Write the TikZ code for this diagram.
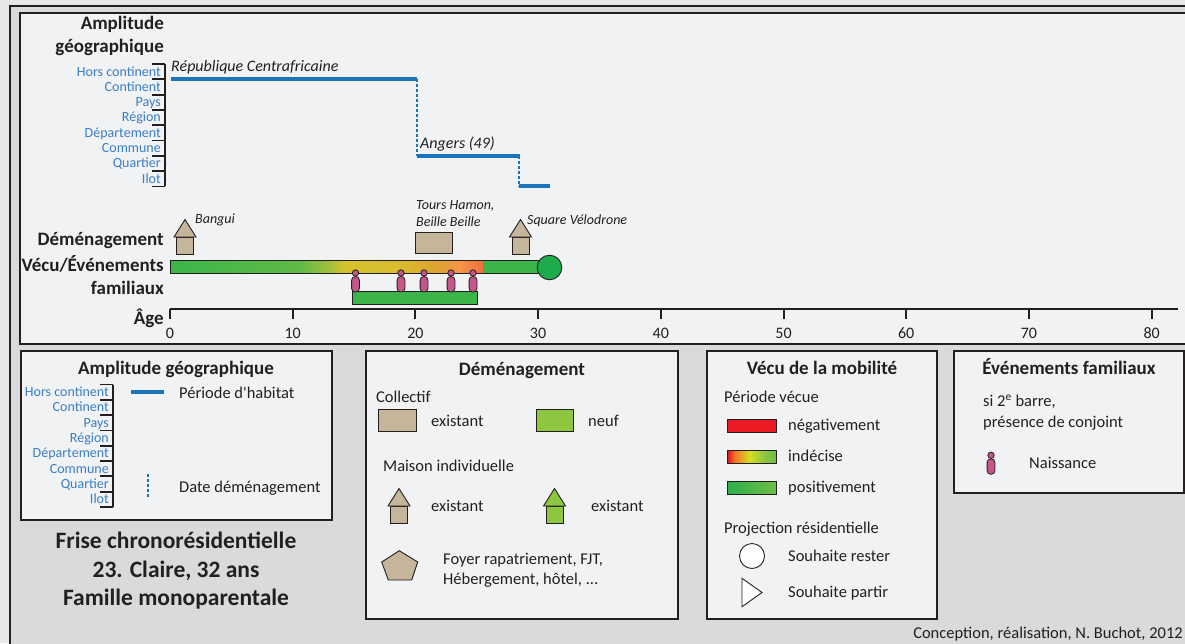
\documentclass[tikz,border=0pt]{standalone}
\usepackage{fontspec}
\setmainfont{Carlito}
\definecolor{fonce}{RGB}{35,31,32}
\definecolor{fond}{RGB}{217,218,220}
\definecolor{marge}{RGB}{232,232,232}
\definecolor{panneau}{RGB}{241,242,244}
\definecolor{bleu}{RGB}{27,117,188}
\definecolor{bleutxt}{RGB}{58,126,196}
\definecolor{beige}{RGB}{197,181,155}
\definecolor{vertclair}{RGB}{141,198,63}
\definecolor{vert}{RGB}{59,181,74}
\definecolor{vertrond}{RGB}{30,171,75}
\definecolor{vfonce}{RGB}{43,176,74}
\definecolor{vmil}{RGB}{108,189,69}
\definecolor{rose}{RGB}{196,86,138}
\definecolor{rouge}{RGB}{237,28,36}
\definecolor{rfonce}{RGB}{150,40,30}
\definecolor{orangeL}{RGB}{240,120,40}
\definecolor{jauneL}{RGB}{215,222,38}
\definecolor{v2}{RGB}{96,185,70}
\definecolor{v3}{RGB}{166,192,58}
\definecolor{j1}{RGB}{214,194,46}
\definecolor{j2}{RGB}{217,188,46}
\definecolor{j3}{RGB}{221,165,48}
\definecolor{o1}{RGB}{246,148,73}
\definecolor{o2}{RGB}{242,110,62}
\pgfdeclarehorizontalshading{vecu}{100bp}{color(0bp)=(vert); color(25bp)=(vert); color(45.8bp)=(v2); color(50.6bp)=(v3); color(53bp)=(j1); color(61.7bp)=(j2); color(67.3bp)=(j3); color(71.3bp)=(o1); color(75bp)=(o2); color(100bp)=(o2)}
\pgfdeclarehorizontalshading{indecise}{100bp}{color(0bp)=(rfonce); color(25bp)=(rfonce); color(26.5bp)=(rouge); color(33bp)=(orangeL); color(48bp)=(jauneL); color(63bp)=(vertclair); color(75bp)=(vmil); color(100bp)=(vmil)}
\tikzset{
  pics/maison/.style={code={
    \filldraw[fill=#1, draw=fonce, line width=0.9pt] (-8.5,0) rectangle (8.5,-17);
    \filldraw[fill=#1, draw=fonce, line width=0.9pt] (-11,-17) -- (0,-34.5) -- (11,-17) -- cycle;}},
  pics/naissance/.style={code={
    \filldraw[fill=rose, draw=fonce, line width=0.8pt, rounded corners=3.6pt] (-3.9,0) rectangle (3.9,-15.5);
    \filldraw[fill=rose, draw=fonce, line width=0.8pt] (0,-19) circle (3.2);}}
}
\begin{document}
\begin{tikzpicture}[x=1pt,y=-1pt,
    txt/.style={font=\fontsize{16.5}{20}\selectfont, text=fonce, inner sep=0pt},
    titre/.style={font=\fontsize{19}{23}\selectfont\bfseries, text=fonce, inner sep=0pt},
    grand/.style={font=\fontsize{23.5}{28}\selectfont\bfseries, text=fonce, inner sep=0pt},
    niveau/.style={font=\fontsize{14}{16}\selectfont, text=bleutxt, inner sep=0pt},
    lieu/.style={font=\fontsize{14}{17}\selectfont\itshape, text=fonce, inner sep=0pt},
    lieug/.style={font=\fontsize{16}{19}\selectfont\itshape, text=fonce, inner sep=0pt},
    chiffre/.style={font=\fontsize{16}{19}\selectfont, text=fonce, inner sep=0pt},
    cadre/.style={fill=panneau, draw=fonce, line width=2.5pt},
    habitat/.style={draw=bleu, line width=4pt},
    demenag/.style={draw=bleu, line width=1.5pt, dash pattern=on 3pt off 2pt},
    crochet/.style={draw=fonce, line width=1.8pt},
    contour/.style={draw=fonce, line width=0.9pt},
    axe/.style={draw=fonce, line width=2pt}]
\useasboundingbox (0,0) rectangle (1185,643);
\clip (0,0) rectangle (1185,643);
\fill[marge] (0,0) rectangle (1185,643);
\path[fill=fond, draw=fonce, line width=2pt] (9.5,5.5) rectangle (1200,660);

% echelle des niveaux : x du crochet, y du premier trait, prefixe
\def\echelle#1#2#3{%
  \foreach \n [count=\i from 0] in {Hors continent,Continent,Pays,Région,Département,Commune,Quartier,Ilot}{
    \node[niveau, anchor=base east] (#3\i) at (#1-4,#2+12+15.3*\i) {\n};
    \draw[crochet] (#1-13,#2+15.3*\i) -- (#1,#2+15.3*\i);
  }
  \draw[crochet] (#1-13,#2+122.4) -- (#1,#2+122.4) (#1,#2) -- (#1,#2+122.4);
}

%% frise
\path[cadre] (20,13) rectangle (1200,344);
\echelle{165}{64}{h}
\node[titre, anchor=base east] (tAmpl) at (164,29.5) {Amplitude};
\node[titre, anchor=base east] (tGeo) at (164,52.5) {géographique};
\draw[habitat] (171,79.3) -- (417,79.3);
\draw[demenag] (417,79.3) -- (417,155.8);
\draw[habitat] (417,155.8) -- (520,155.8);
\draw[demenag] (519,155.8) -- (519,186.4);
\draw[habitat] (519,186.4) -- (550,186.4);
\node[lieug, anchor=base west] (tRca) at (171,71.7) {République Centrafricaine};
\node[lieug, anchor=base west] (tAngers) at (420,148.8) {Angers (49)};

\node[titre, anchor=base east] (tDem) at (164,245) {Déménagement};
\node[titre, anchor=base east] (tVecu) at (164,271.7) {Vécu/Événements};
\node[titre, anchor=base east] (tFam) at (164,294.3) {familiaux};
\node[titre, anchor=base east] (tAge) at (164,324.5) {Âge};
\pic at (185,254) {maison=beige};
\pic at (520.5,254) {maison=beige};
\draw[contour, fill=beige] (415,232) rectangle (452,253);
\node[lieu, anchor=base west] (tBangui) at (195,223.3) {Bangui};
\node[lieu, anchor=base west] (tTours) at (416,209.3) {Tours Hamon,};
\node[lieu, anchor=base west] (tBeille) at (416,226) {Beille Beille};
\node[lieu, anchor=base west] (tSquare) at (527,224) {Square Vélodrone};

\shade[shading=vecu] (170,260) rectangle (483,273);
\fill[vert] (483,260) rectangle (543,273);
\draw[contour] (170,260) rectangle (543,273);
\filldraw[fill=vertrond, contour] (549.5,267.5) circle (12.3);
\draw[contour, left color=vert, middle color=vmil, right color=vert] (352,291) rectangle (477,304);
\foreach \x in {355.5,401,424,451,473}
  \pic at (\x,292) {naissance};

\draw[axe] (170,309) -- (1178,309);
\foreach \a in {0,10,...,80}{
  \draw[axe] (170+12.27*\a,309) -- (170+12.27*\a,319);
  \node[chiffre, anchor=base] (age\a) at (170+12.27*\a,338.5) {\a};
}

%% legende : amplitude
\path[cadre] (21,351) rectangle (332,520);
\node[titre, anchor=base] (lAmpl) at (176,374.3) {Amplitude géographique};
\echelle{113}{384.5}{l}
\draw[habitat] (131,392) -- (164,392);
\node[txt, anchor=base west] (lHab) at (179,398.3) {Période d\textquotesingle habitat};
\draw[demenag] (148,474) -- (148,498);
\node[txt, anchor=base west] (lDate) at (179,492.7) {Date déménagement};
\node[grand, anchor=base] (tit1) at (176,548) {Frise chronorésidentielle};
\node[grand, anchor=base] (tit2) at (176,577) {23. Claire, 32 ans};
\node[grand, anchor=base] (tit3) at (176,605) {Famille monoparentale};

%% legende : demenagement
\path[cadre] (366,351) rectangle (678,619);
\node[titre, anchor=base] (lDem) at (522,375) {Déménagement};
\node[txt, anchor=base west] (lColl) at (376,402.7) {Collectif};
\draw[contour, fill=beige] (378,409) rectangle (416,431);
\node[txt, anchor=base west] (lCollEx) at (431,426) {existant};
\draw[contour, fill=vertclair] (536,409) rectangle (573,431);
\node[txt, anchor=base west] (lNeuf) at (588,426) {neuf};
\node[txt, anchor=base west] (lMaison) at (383,471) {Maison individuelle};
\pic at (399,523) {maison=beige};
\node[txt, anchor=base west] (lMaisEx) at (431,511) {existant};
\pic at (554.5,523) {maison=vertclair};
\node[txt, anchor=base west] (lMaisNeuf) at (591,511) {existant};
\draw[contour, fill=beige] (399.3,550.7) -- (417.7,562) -- (411.7,580) -- (388.3,580) -- (381.7,562) -- cycle;
\node[txt, anchor=base west] (lFoyer) at (443,564) {Foyer rapatriement, FJT,};
\node[txt, anchor=base west] (lHeb) at (443,584) {Hébergement, hôtel, ...};

%% legende : vecu
\path[cadre] (707,351) rectangle (937,619);
\node[titre, anchor=base] (lVecu) at (822,374.3) {Vécu de la mobilité};
\node[txt, anchor=base west] (lPer) at (724,402.7) {Période vécue};
\draw[contour, fill=rouge] (727,419) rectangle (776,432.5);
\node[txt, anchor=base west] (lNeg) at (788,430.7) {négativement};
\shade[shading=indecise] (727,450) rectangle (776,463.3);
\draw[contour] (727,450) rectangle (776,463.3);
\node[txt, anchor=base west] (lInd) at (788,461.7) {indécise};
\draw[contour, left color=vfonce, middle color=vert, right color=vmil] (727,481) rectangle (776,494.3);
\node[txt, anchor=base west] (lPos) at (788,492.7) {positivement};
\node[txt, anchor=base west] (lProj) at (724,533.3) {Projection résidentielle};
\draw[contour, fill=white] (752,556) circle (12.5);
\node[txt, anchor=base west] (lRest) at (788,561.7) {Souhaite rester};
\draw[contour, fill=white] (742,578.3) -- (762,592.5) -- (742,606.7) -- cycle;
\node[txt, anchor=base west] (lPart) at (788,597.7) {Souhaite partir};

%% legende : evenements
\path[cadre] (954,351) rectangle (1184,493);
\node[titre, anchor=base] (lEve) at (1069,374.3) {Événements familiaux};
\node[txt, anchor=base west] (lSi) at (983,406.7) {si 2\textsuperscript{e} barre,};
\node[txt, anchor=base west] (lConj) at (983,427.3) {présence de conjoint};
\pic at (991,474.3) {naissance};
\node[txt, anchor=base west] (lNais) at (1029,468.3) {Naissance};

\node[txt, anchor=base east] (credit) at (1183,638) {Conception, réalisation, N. Buchot, 2012};
\end{tikzpicture}
\end{document}
